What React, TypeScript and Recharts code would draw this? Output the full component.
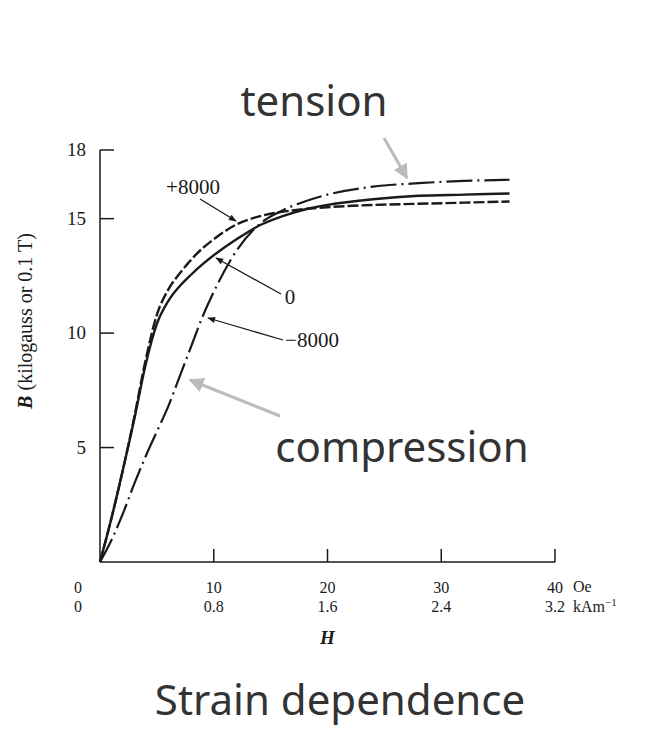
import React from "react";
import { LineChart, Line, XAxis, YAxis } from "recharts";

// H in Oe, B in kilogauss
const fieldOe = [0, 1, 2, 3, 4, 5, 6, 7, 8, 9, 10, 12, 14, 16, 18, 20, 24, 28, 32, 36];
const bZero = [0, 1.9, 4.0, 6.2, 8.6, 10.4, 11.4, 12.05, 12.55, 13.0, 13.4, 14.1, 14.7, 15.1, 15.4, 15.6, 15.85, 16.0, 16.05, 16.1];
const bTension = [0, 1.9, 4.0, 6.3, 8.8, 10.8, 11.9, 12.6, 13.2, 13.7, 14.1, 14.75, 15.1, 15.3, 15.42, 15.5, 15.6, 15.65, 15.7, 15.75];
const bCompression = [0, 0.95, 2.1, 3.4, 4.6, 5.7, 6.8, 8.1, 9.4, 10.7, 11.8, 13.6, 14.75, 15.35, 15.75, 16.05, 16.4, 16.55, 16.65, 16.7];

const oeTicks = [0, 10, 20, 30, 40];
const kamLabels = ["0", "0.8", "1.6", "2.4", "3.2"];
const bTicks = [5, 10, 15, 18];

const rows = fieldOe.map((h, i) => ({
  h,
  zero: bZero[i],
  plus: bTension[i],
  minus: bCompression[i],
}));

const SERIF = "'Liberation Serif', 'DejaVu Serif', serif";
const SANS = "'Noto Sans', 'Open Sans', sans-serif";
const INK = "#1a1a1a";

function YTick({ x, y, payload }: any) {
  return (
    <g>
      <line x1={x} y1={y} x2={x + 14} y2={y} stroke={INK} strokeWidth={1.5} />
      <text x={x - 14} y={y + 6} textAnchor="end" fontFamily={SERIF} fontSize={19} fill={INK}>
        {payload.value}
      </text>
    </g>
  );
}

function XTick({ x, y, payload }: any) {
  const v = payload.value;
  const i = oeTicks.indexOf(v);
  const lx = v === 0 ? x - 22 : x;
  return (
    <g>
      {v > 0 && <line x1={x} y1={y} x2={x} y2={y - 13} stroke={INK} strokeWidth={1.5} />}
      <text x={lx} y={y + 31} textAnchor="middle" fontFamily={SERIF} fontSize={16} fill={INK}>{v}</text>
      <text x={lx} y={y + 50} textAnchor="middle" fontFamily={SERIF} fontSize={16} fill={INK}>{kamLabels[i]}</text>
      {v === 40 && (
        <>
          <text x={x + 18} y={y + 30} fontFamily={SERIF} fontSize={16} fill={INK}>Oe</text>
          <text x={x + 18} y={y + 50} fontFamily={SERIF} fontSize={16} fill={INK}>
            kAm<tspan dy={-6} fontSize={11}>−1</tspan>
          </text>
        </>
      )}
    </g>
  );
}

export default function App() {
  return (
    <div style={{ position: "absolute", left: 0, top: 0, width: 651, height: 734, background: "#fff" }}>
      <LineChart width={651} height={734} data={rows} margin={{ top: 150, right: 96, bottom: 112, left: 40 }}>
        <XAxis
          dataKey="h"
          type="number"
          domain={[0, 40]}
          ticks={oeTicks}
          height={60}
          tickSize={0}
          tickMargin={0}
          tickLine={false}
          stroke={INK}
          strokeWidth={1.5}
          tick={<XTick />}
          label={{
            content: ({ viewBox }: any) => (
              <text x={viewBox.x + viewBox.width / 2} y={viewBox.y + 82} textAnchor="middle"
                fontFamily={SERIF} fontSize={19} fontWeight="bold" fontStyle="italic" fill={INK}>H</text>
            ),
          }}
        />
        <YAxis
          type="number"
          domain={[0, 18]}
          ticks={bTicks}
          width={60}
          tickSize={0}
          tickMargin={0}
          tickLine={false}
          stroke={INK}
          strokeWidth={1.5}
          tick={<YTick />}
          label={{
            content: ({ viewBox }: any) => {
              const cx = viewBox.x - 8;
              const cy = viewBox.y + viewBox.height / 2 - 35;
              return (
                <text x={cx} y={cy} transform={`rotate(-90 ${cx} ${cy})`} textAnchor="middle"
                  fontFamily={SERIF} fontSize={20} fill={INK}>
                  <tspan fontWeight="bold" fontStyle="italic">B</tspan> (kilogauss or 0.1 T)
                </text>
              );
            },
          }}
        />
        <Line dataKey="zero" type="monotone" stroke={INK} strokeWidth={2.4} dot={false} isAnimationActive={false} />
        <Line dataKey="plus" type="monotone" stroke={INK} strokeWidth={2.4} strokeDasharray="11 3" dot={false} isAnimationActive={false} />
        <Line dataKey="minus" type="monotone" stroke={INK} strokeWidth={2.2} strokeDasharray="26 5 2 5" dot={false} isAnimationActive={false} />
      </LineChart>

      <svg width={651} height={734} style={{ position: "absolute", left: 0, top: 0, pointerEvents: "none" }}>
        <defs>
          <marker id="grayHead" viewBox="0 0 10 10" refX="9" refY="5" markerWidth="5" markerHeight="5" orient="auto">
            <path d="M0,0 L10,5 L0,10 z" fill="#bbbbbb" />
          </marker>
          <marker id="blackHead" viewBox="0 0 10 10" refX="9" refY="5" markerWidth="7" markerHeight="6" orient="auto">
            <path d="M0,1 L10,5 L0,9 z" fill={INK} />
          </marker>
        </defs>

        <text x={314} y={116} textAnchor="middle" fontFamily={SANS} fontSize={42} fill="#333">tension</text>
        <line x1={384} y1={138} x2={407} y2={178} stroke="#bbbbbb" strokeWidth={3} markerEnd="url(#grayHead)" />

        <text x={402} y={462} textAnchor="middle" fontFamily={SANS} fontSize={42} fill="#333">compression</text>
        <line x1={280} y1={416} x2={190} y2={380} stroke="#bbbbbb" strokeWidth={3} markerEnd="url(#grayHead)" />

        <text x={340} y={715} textAnchor="middle" fontFamily={SANS} fontSize={42} fill="#333">Strain dependence</text>

        <text x={193} y={194} textAnchor="middle" fontFamily={SERIF} fontSize={21} fill={INK}>+8000</text>
        <line x1={200} y1={199} x2={236} y2={221} stroke={INK} strokeWidth={1.3} markerEnd="url(#blackHead)" />

        <text x={290} y={304} textAnchor="middle" fontFamily={SERIF} fontSize={21} fill={INK}>0</text>
        <line x1={281} y1={294} x2={216} y2={258} stroke={INK} strokeWidth={1.3} markerEnd="url(#blackHead)" />

        <text x={312} y={347} textAnchor="middle" fontFamily={SERIF} fontSize={21} fill={INK}>−8000</text>
        <line x1={283} y1={340} x2={208} y2={318} stroke={INK} strokeWidth={1.3} markerEnd="url(#blackHead)" />
      </svg>
    </div>
  );
}
